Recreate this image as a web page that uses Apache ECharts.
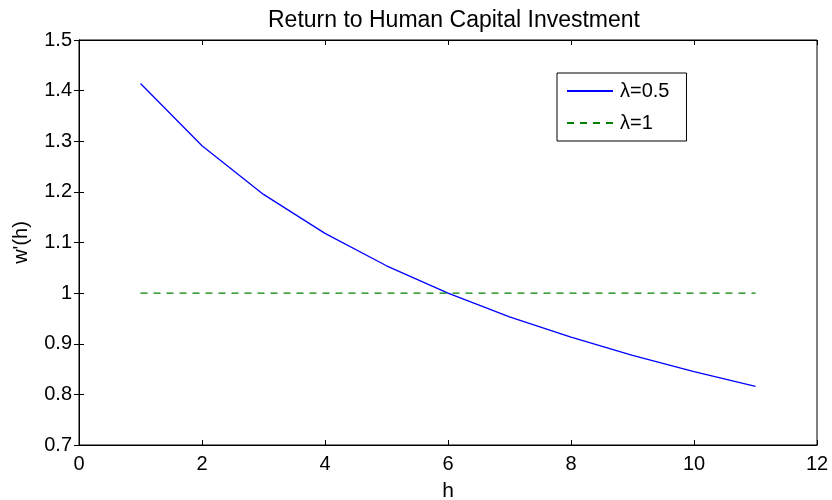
<!DOCTYPE html>
<html><head><meta charset="utf-8">
<script src="https://cdn.jsdelivr.net/npm/echarts@6/dist/echarts.min.js"></script>
<style>html,body{margin:0;padding:0;background:#fff}#c{width:832px;height:500px}</style>
</head><body><div id="c"></div>
<script>
const hValues = [1,2,3,4,5,6,7,8,9,10,11];
const lambdaHalf = [1.414,1.291,1.195,1.118,1.054,1.000,0.953,0.913,0.877,0.845,0.816];
const lambdaOne = [1,1,1,1,1,1,1,1,1,1,1];
const seriesNames = ['λ=0.5','λ=1'];
const FONT = 'Liberation Sans';
const chart = echarts.init(document.getElementById('c'));
const mk = (ys) => hValues.map((h,i)=>[h,ys[i]]);
const tick = {show:true, inside:true, length:5, lineStyle:{color:'#000'}};
chart.setOption({
  animation:false,
  title:{text:'Return to Human Capital Investment', left:449, top:4, textAlign:'center',
    textStyle:{fontFamily:FONT,fontSize:23,fontWeight:'normal',color:'#000'}},
  grid:{left:79, right:15, top:40, bottom:55, show:true, borderColor:'#000', borderWidth:1,
    outerBoundsMode:'none', containLabel:false},
  legend:{data:seriesNames, orient:'vertical', left:557, top:73,
    borderColor:'#000', borderWidth:1, backgroundColor:'#fff', padding:[8,17,8,9], itemGap:12,
    itemWidth:46, itemHeight:20, borderRadius:0, itemStyle:{opacity:0},
    textStyle:{fontFamily:FONT,fontSize:20,color:'#000',padding:[0,0,0,2]}},
  xAxis:[{type:'value', min:0, max:12, interval:2, name:'h', nameLocation:'middle', nameGap:36,
    nameTextStyle:{fontFamily:FONT,fontSize:21,color:'#000'},
    axisLine:{lineStyle:{color:'#000'}}, axisTick:tick, splitLine:{show:false},
    axisLabel:{fontFamily:FONT,fontSize:20,color:'#000',margin:9}},
    {type:'value', position:'top', min:0, max:12, interval:2, axisLine:{lineStyle:{color:'#000'}},
    axisTick:tick, axisLabel:{show:false}, splitLine:{show:false}}],
  yAxis:[{type:'value', min:0.7, max:1.5, interval:0.1, name:"w'(h)", nameLocation:'middle', nameGap:48,
    nameTextStyle:{fontFamily:FONT,fontSize:20,color:'#000'},
    axisLine:{lineStyle:{color:'#000'}}, axisTick:tick, splitLine:{show:false},
    axisLabel:{fontFamily:FONT,fontSize:20,color:'#000',margin:7,formatter:v=>String(Math.round(v*10)/10)}},
    {type:'value', position:'right', min:0.7, max:1.5, interval:0.1, axisLine:{lineStyle:{color:'#000'}},
    axisTick:tick, axisLabel:{show:false}, splitLine:{show:false}}],
  series:[
    {name:seriesNames[0], type:'line', data:mk(lambdaHalf), symbol:'none', lineStyle:{color:'#0000ff',width:1.3}, itemStyle:{color:'#0000ff'}},
    {name:seriesNames[1], type:'line', data:mk(lambdaOne), symbol:'none', lineStyle:{color:'#008000',width:1.3,type:[7,6]}, itemStyle:{color:'#008000'}}
  ]
});
</script></body></html>
